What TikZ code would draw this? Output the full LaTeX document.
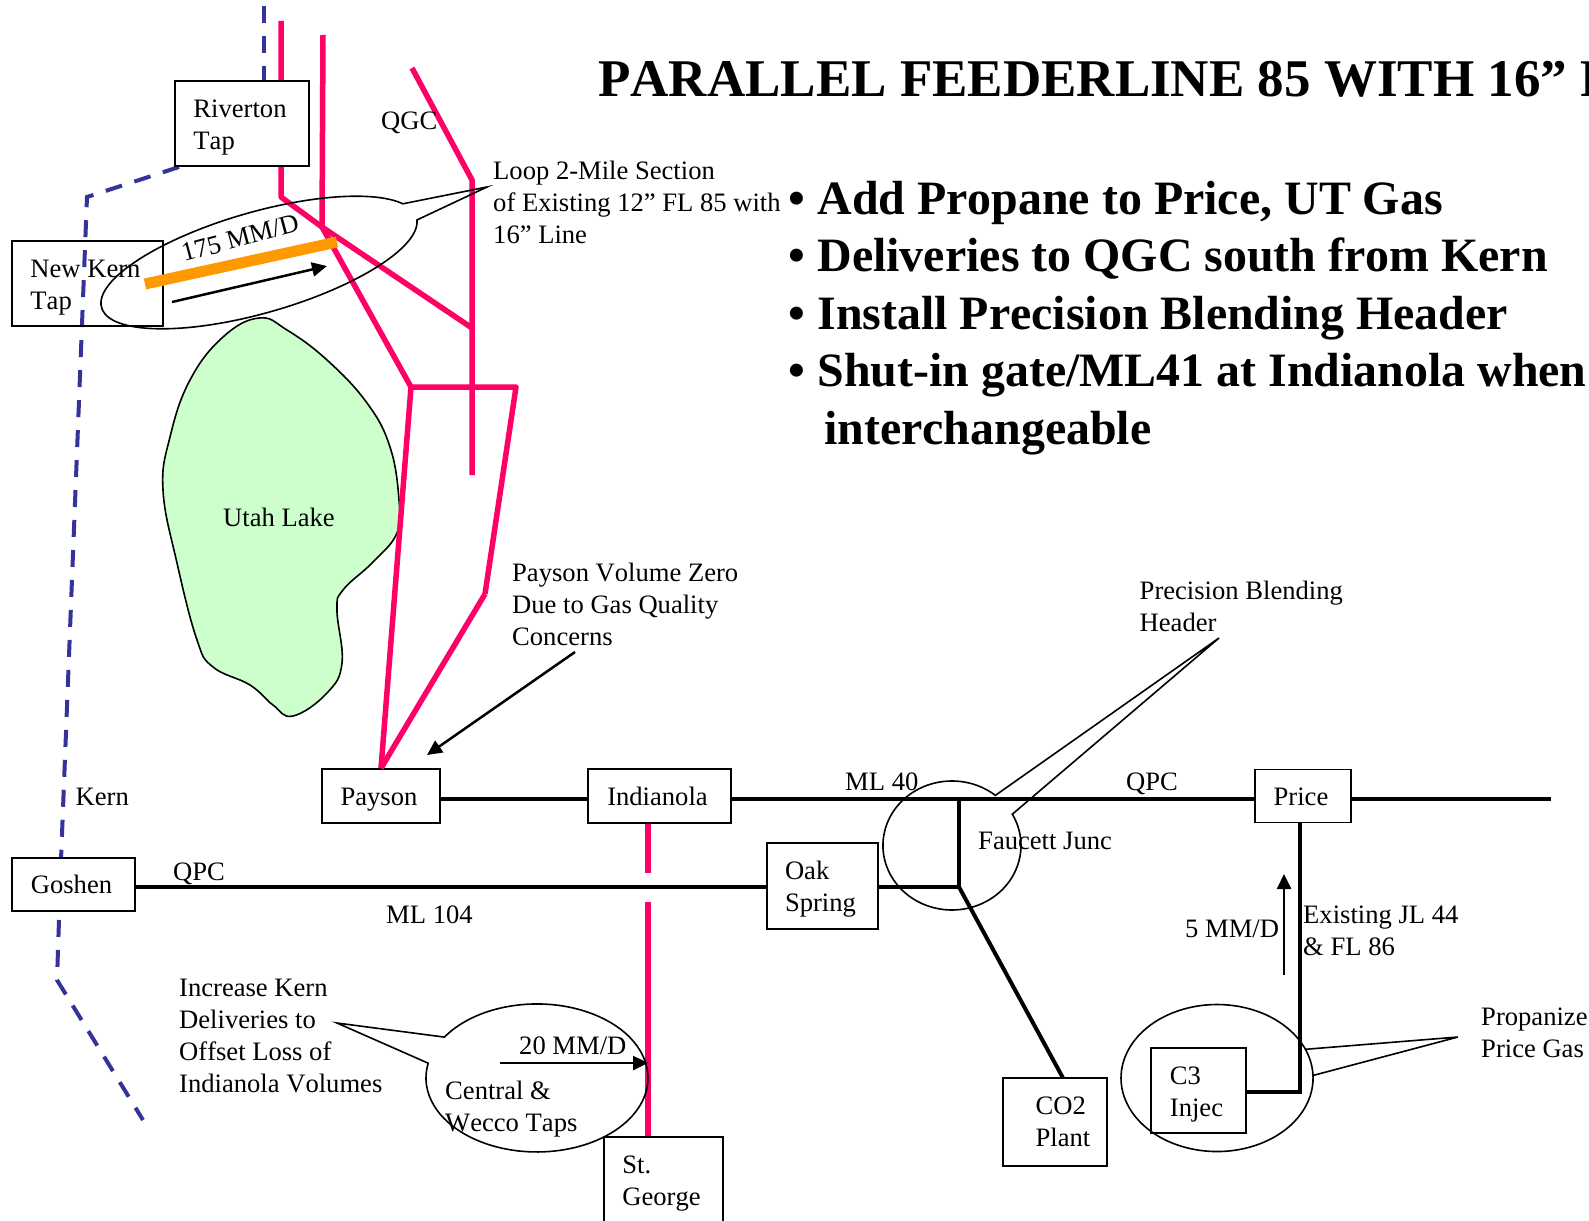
\documentclass[tikz,border=0pt]{standalone}
\usepackage{fontspec}
\setmainfont[Kerning=Off]{Liberation Serif}
\usetikzlibrary{arrows.meta}
\definecolor{pipepink}{HTML}{FF0066}
\definecolor{kernblue}{HTML}{333399}
\definecolor{loopgold}{HTML}{FF9900}
\definecolor{lakegreen}{HTML}{CCFFCC}
\newcommand{\topgap}[1]{\rule{0pt}{#1pt}}
\newcommand{\padright}{\hspace*{4pt}}
\tikzset{
  labeltext/.style={font=\fontsize{26.6}{32}\selectfont, align=left, inner sep=0pt},
  labelwest/.style={labeltext, anchor=west},
  stationbox/.style={labeltext, draw, line width=1.6pt, fill=white},
  pinkline/.style={pipepink, line width=5.5pt, line join=round},
  kernline/.style={kernblue, line width=4pt, dash pattern=on 17pt off 13pt},
  blackline/.style={black, line width=4pt},
  calloutline/.style={black, line width=1.6pt},
  flowarrow/.style={-{Triangle[length=15pt,width=14pt]}, line width=2.5pt},
  titletext/.style={font=\fontsize{53}{60}\bfseries\selectfont, inner sep=0pt, anchor=west},
  bullettext/.style={font=\fontsize{47.9}{57}\bfseries\selectfont, inner sep=0pt, anchor=west}
}
\begin{document}
\begin{tikzpicture}[x=1pt,y=1pt,yscale=-1]
  \useasboundingbox (0,0) rectangle (1589,1220);

  % Utah Lake
  \draw[calloutline, fill=lakegreen] plot[smooth cycle, tension=0.7] coordinates {
    (259,318) (287,330) (327,360) (367,403) (390,447) (399,500) (397,533) (373,562)
    (343,590) (337,610) (342,663) (327,693) (293,716) (273,705) (250,685) (213,667)
    (197,640) (177,563) (163,490) (170,437) (190,380) (223,337)};
  \node[labeltext] (lake) at (279,517) {Utah Lake};

  % Punten op het net
  \coordinate (kernA) at (264,6);
  \coordinate (kernB) at (264,81);
  \coordinate (kernC) at (179,167);
  \coordinate (kernD) at (87,197);
  \coordinate (kernE) at (61,860);
  \coordinate (kernF) at (57,980);
  \coordinate (kernG) at (143,1120);
  \coordinate (rivA) at (281,21);
  \coordinate (rivB) at (281,197);
  \coordinate (split) at (322,227);
  \coordinate (branch) at (472,328);
  \coordinate (qgcA) at (412,68);
  \coordinate (qgcB) at (472,180);
  \coordinate (qgcC) at (472,475);
  \coordinate (second) at (323,35);
  \coordinate (crossL) at (411,387);
  \coordinate (crossR) at (516,387);
  \coordinate (crossD) at (485,594);
  \coordinate (mlEast) at (1551,799);
  \coordinate (qpcRow) at (0,887);
  \coordinate (junctionN) at (959,799);
  \coordinate (junctionS) at (959,887);
  \coordinate (sgA) at (648,873);
  \coordinate (sgB) at (648,902);

  % Roze leidingen
  \draw[pinkline] (rivA) -- (rivB) -- (split) -- (branch);
  \draw[pinkline] (second) -- (split) -- (crossL) -- (crossR) -- (crossD);
  \draw[pinkline] (qgcA) -- (qgcB) -- (qgcC);

  % Kern, gestreept
  \draw[kernline] (kernA) -- (kernB);
  \draw[kernline] (kernC) -- (kernD) -- (kernE);
  \draw[kernline] (kernE) -- (kernF) -- (kernG);

  % Stations
  \node[stationbox, minimum width=134pt, minimum height=85pt] (riverton) at (242,123.5) {\topgap{26}Riverton\padright\\Tap};
  \node[stationbox, fill=none, minimum width=151pt, minimum height=85pt] (newkern) at (87.5,283.5) {\topgap{26}New Kern\padright\\Tap};
  \node[stationbox, minimum width=118pt, minimum height=54pt] (payson) at (381,796) {\topgap{24}Payson\padright};
  \node[stationbox, minimum width=143pt, minimum height=54pt] (indianola) at (659.5,796) {Indianola\padright};
  \node[stationbox, minimum width=96pt, minimum height=53pt] (price) at (1303,796) {\topgap{20}Price\padright};
  \node[stationbox, minimum width=123pt, minimum height=53pt] (goshen) at (73.5,884.5) {Goshen\padright};
  \node[stationbox, minimum width=111pt, minimum height=86pt] (oak) at (822.5,886) {\topgap{24}Oak\\Spring\padright};
  \node[stationbox, minimum width=104pt, minimum height=88pt] (co2) at (1055,1122) {\hspace*{16pt}CO2\\\hspace*{16pt}Plant};
  \node[stationbox, fill=none, minimum width=95pt, minimum height=85pt] (c3) at (1198.5,1090.5) {\topgap{26}C3\\Injec\padright};
  \node[stationbox, minimum width=119pt, minimum height=94pt] (george) at (663.5,1184) {St.\\George\padright};

  % Laatste stukken naar de stations
  \draw[pinkline] (crossL) -- (payson.north);
  \draw[pinkline] (crossD) -- (payson.north);
  \draw[pinkline] (indianola.south) ++(-11.5,0) coordinate (indS) -- (indS |- sgA);
  \draw[pinkline] (indS |- sgB) -- (indS |- george.north);

  % Zwarte leidingen
  \draw[blackline] (payson.east |- mlEast) -- (indianola.west |- mlEast);
  \draw[blackline] (indianola.east |- mlEast) -- (price.west |- mlEast);
  \draw[blackline] (price.east |- mlEast) -- (mlEast);
  \draw[blackline] (goshen.east |- qpcRow) -- (oak.west |- qpcRow);
  \draw[blackline] (oak.east |- qpcRow) -- (junctionS) -- (junctionN);
  \draw[blackline] (junctionS) -- (1063,1078) coordinate (co2top);
  \draw[blackline] (1299.5,823) coordinate (priceS) -- (1299.5,1092) coordinate (c3corner) -- (c3.east |- c3corner);

  % Ballonnen
  \coordinate (looptip) at (487,187);
  \begin{scope}[shift={(259,262.5)},rotate=-16]
    \draw[calloutline] (3:163.8pt and 50.5pt) arc[start angle=3,end angle=340.6,x radius=163.8pt,y radius=50.5pt] -- (looptip) -- cycle;
  \end{scope}
  \coordinate (faucettA) at (1012.3,814.2);
  \coordinate (faucettTip) at (1219,638);
  \draw[calloutline] (faucettA) arc[start angle=-29,end angle=309,x radius=69pt,y radius=64.5pt] -- (faucettTip) -- cycle;
  \coordinate (kernbubA) at (444.4,1037.1);
  \coordinate (kernbubTip) at (337,1023);
  \draw[calloutline] (kernbubA) arc[start angle=213.5,end angle=551.5,x radius=111pt,y radius=74pt] -- (kernbubTip) -- cycle;
  \coordinate (c3bubA) at (1305.4,1049.3);
  \coordinate (c3bubTip) at (1458,1037);
  \draw[calloutline] (c3bubA) arc[start angle=-23,end angle=358,x radius=96pt,y radius=73.5pt] -- (c3bubTip) -- cycle;

  % Lus en debiet
  \draw[loopgold, line width=11pt] (145,284) coordinate (loopW) -- (337,242) coordinate (loopE);
  \draw[flowarrow] (172,302) coordinate (flowA) -- (327,266) coordinate (flowB);
  \draw[flowarrow] (575,652) coordinate (paysonA) -- (427,755) coordinate (paysonB);
  \draw[flowarrow] (500,1063) coordinate (tapA) -- (648,1063) coordinate (tapB);
  \draw[flowarrow] (1284,975) coordinate (c3A) -- (1284,874) coordinate (c3B);

  % Labels
  \node[labeltext, rotate=15] (flowlabel) at (240,238) {175 MM/D};
  \node[labelwest] (qgc) at (381,123) {QGC};
  \node[labelwest] (loop) at (493,202) {Loop 2-Mile Section\\of Existing 12” FL 85 with\\16” Line};
  \node[labelwest] (volume) at (512,604) {Payson Volume Zero\\Due to Gas Quality\\Concerns};
  \node[labelwest] (blending) at (1139.5,606) {Precision Blending\\Header};
  \node[labelwest] (kern) at (75.5,797) {Kern};
  \node[labelwest] (mlforty) at (845,782) {ML 40};
  \node[labelwest] (qpctop) at (1126,784) {QPC};
  \node[labelwest] (faucett) at (978,841) {Faucett Junc};
  \node[labelwest] (qpcleft) at (173,874) {QPC};
  \node[labelwest] (ml104) at (386,915) {ML 104};
  \node[labelwest] (fivemm) at (1185,929) {5 MM/D};
  \node[labelwest] (existing) at (1303,931) {Existing JL 44\\\& FL 86};
  \node[labelwest] (increase) at (179,1036) {Increase Kern\\Deliveries to\\Offset Loss of\\Indianola Volumes};
  \node[labelwest] (twentymm) at (519,1046) {20 MM/D};
  \node[labelwest] (central) at (445,1109) {Central \&\\Wecco Taps};
  \node[labelwest] (propanize) at (1481,1033) {Propanize\\Price Gas};

  % Titel en opsomming
  \node[titletext] (title) at (598,79) {PARALLEL FEEDERLINE 85 WITH 16” P};
  \node[bullettext] (bulletA) at (788.5,203) {• Add Propane to Price, UT Gas};
  \node[bullettext] (bulletB) at (788.5,259) {• Deliveries to QGC south from Kern};
  \node[bullettext] (bulletC) at (788.5,318) {• Install Precision Blending Header};
  \node[bullettext] (bulletD) at (788.5,375) {• Shut-in gate/ML41 at Indianola when};
  \node[bullettext] (bulletE) at (824,433) {interchangeable};
\end{tikzpicture}
\end{document}
